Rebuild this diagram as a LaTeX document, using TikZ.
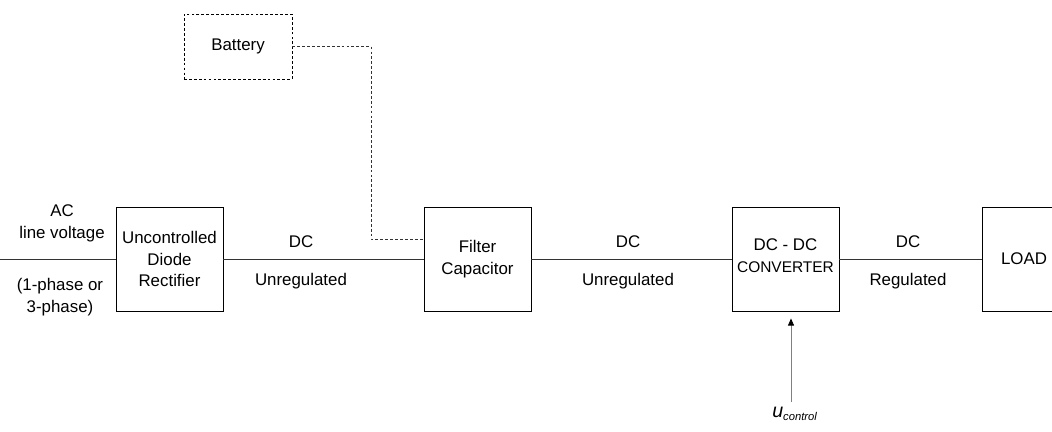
\documentclass[tikz,border=0pt]{standalone}
\usepackage{fontspec}
\setmainfont{Liberation Sans}
\usetikzlibrary{arrows.meta,positioning,calc}

\begin{document}
\begin{tikzpicture}[scale=1.0,
    font=\fontsize{12}{15.5}\selectfont,
    block/.style={draw, line width=0.6pt, minimum width=2.675cm, minimum height=2.6cm, align=center, inner sep=1pt},
    wire/.style={line width=0.6pt, black!80},
    lbl/.style={inner sep=0pt, anchor=base},
    ctrl/.style={line width=0.6pt, gray, -{Triangle[length=1.8mm,width=1.5mm,black]}}]
    \useasboundingbox (0,0) rectangle (26.3,10.8);
    \clip (0,0) rectangle (26.3,10.8);

    % Power stages
    \node[block] (rect) at (4.2375,4.325) {Uncontrolled\\Diode\\Rectifier};
    \node[block] (filt) at (11.9375,4.325) {Filter\\Capacitor};
    \node[block, text depth=0.15cm] (conv) at (19.6375,4.325) {DC - DC\\{\fontsize{11}{15.5}\selectfont CONVERTER}};
    \node[block, minimum width=2.1cm] (load) at (25.6,4.325) {LOAD};

    % Battery (optional source)
    \node[block, dashed, dash pattern=on 2pt off 1.5pt, minimum width=2.7cm, minimum height=1.625cm] (batt) at (5.95,9.6375) {Battery};

    % Main path
    \coordinate (acin) at (0,4.325);
    \draw[wire] (acin) -- (rect);
    \draw[wire] (rect) -- (filt);
    \draw[wire] (filt) -- (conv);
    \draw[wire] (conv) -- (load);

    % Battery feed
    \coordinate (bend) at (9.275,4.825);
    \draw[wire, dashed, dash pattern=on 2pt off 1.5pt] (batt.east) -| (bend) -- (bend -| filt.west);

    % Input labels
    \node[align=center] (actext) at (1.55,5.21) {AC\\line voltage};
    \node[align=center] (phase) at (1.5,3.375) {(1-phase or\\3-phase)};

    % Bus labels
    \node[lbl] (dcA) at (7.525,4.6) {DC};
    \node[lbl] (unregA) at (7.525,3.65) {Unregulated};
    \node[lbl] (dcB) at (15.7,4.6) {DC};
    \node[lbl] (unregB) at (15.7,3.65) {Unregulated};
    \node[lbl] (dcC) at (22.7,4.6) {DC};
    \node[lbl] (reg) at (22.7,3.65) {Regulated};

    % Control input
    \coordinate (ctrlin) at (19.775,0.75);
    \draw[ctrl, shorten >=0.175cm] (ctrlin) -- (ctrlin |- conv.south);
    \node[inner sep=0pt, anchor=base west] (uctrl) at (19.3,0.35) {\itshape{\fontsize{14}{15}\selectfont u}\textsubscript{control}};
  \end{tikzpicture}
\end{document}
